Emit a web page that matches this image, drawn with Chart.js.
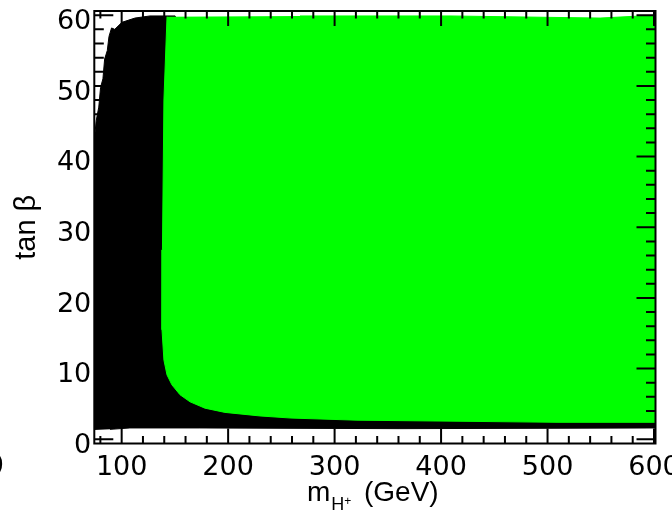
<!DOCTYPE html>
<html>
<head>
<meta charset="utf-8">
<script src="https://cdn.jsdelivr.net/npm/chart.js@4.4.1/dist/chart.umd.min.js"></script>
<style>
html,body{margin:0;padding:0;background:#fff}
#wrap{width:672px;height:512px;position:relative}
</style>
</head>
<body>
<div id="wrap"><canvas id="c" width="672" height="512"></canvas></div>
<script>
// axis ranges and tick labels
const xRange=[74.3,601.4];
const yRange=[-0.6,60.6];
const xTicks=[100,200,300,400,500,600];
const yTicks=[0,10,20,30,40,50,60];

// outline of the green (allowed) point cloud
const greenX=[142.6,139.7,138.3,137.9,139.7,142.6,147.2,154.8,164.2,178.2,197.0,229.9,259.0,321.0,446.9,508.9,601.4,601.4,549.3,408.4,267.5];
const greenY=[59.8,48.0,26.8,15.5,11.2,9.1,7.7,6.3,5.3,4.4,3.8,3.3,3.0,2.7,2.5,2.4,2.4,60.0,59.6,59.9,59.9];

// outline of the black (excluded) point cloud, the part under the green is hidden
const blackX=[74.3,74.3,76.0,78.5,80.2,82.4,84.0,86.5,88.1,90.5,93.5,100.3,112.5,126.6,150.1,150.1,601.4,601.4,361.4,173.5,107.8,89.0];
const blackY=[1.3,42.3,45.0,47.0,49.8,51.0,53.8,55.0,57.0,58.2,58.0,59.0,59.6,59.9,59.9,19.7,4.1,1.6,1.5,1.6,1.6,1.4];

const pts=(xs,ys)=>xs.map((x,i)=>({x:x,y:ys[i]}));

const TICKFONT={family:'DejaVu Sans',size:27};

// box with inward ticks on all four sides, plus the axis titles
const frame={
  id:'frame',
  afterDatasetsDraw(chart){
    const {ctx,chartArea:a,scales:{x,y}}=chart;
    ctx.save();
    ctx.strokeStyle='#000';
    ctx.lineWidth=2;
    ctx.strokeRect(a.left,a.top,a.right-a.left,a.bottom-a.top);
    ctx.beginPath();
    for(let v=80;v<=600;v+=20){
      const p=x.getPixelForValue(v);
      const L=(v%100===0)?15:7.5;
      ctx.moveTo(p,a.bottom);ctx.lineTo(p,a.bottom-L);
      ctx.moveTo(p,a.top);ctx.lineTo(p,a.top+L);
    }
    for(let v=0;v<=60;v+=2){
      const p=y.getPixelForValue(v);
      const L=(v%10===0)?19:9.5;
      ctx.moveTo(a.left,p);ctx.lineTo(a.left+L,p);
      ctx.moveTo(a.right,p);ctx.lineTo(a.right-L,p);
    }
    ctx.stroke();
    ctx.restore();
  },
  afterDraw(chart){
    const {ctx,chartArea:a}=chart;
    ctx.save();
    ctx.fillStyle='#000';
    ctx.textBaseline='alphabetic';
    ctx.textAlign='left';
    ctx.font='28px "Liberation Sans"';
    let cx=307;
    ctx.fillText('m',cx,501);
    cx+=ctx.measureText('m').width+1;
    ctx.font='18px "Liberation Sans"';
    ctx.fillText('H',cx,510);
    cx+=ctx.measureText('H').width;
    ctx.font='12px "Liberation Sans"';
    ctx.fillText('+',cx,505);
    ctx.font='28px "Liberation Sans"';
    ctx.fillText('(GeV)',364,501);
    // y title, rotated
    ctx.save();
    ctx.translate(35,(a.top+a.bottom)/2);
    ctx.rotate(-Math.PI/2);
    ctx.textAlign='center';
    ctx.font='29px "Liberation Sans"';
    ctx.fillText('tan β',0,0);
    ctx.restore();
    // cut-off label of the neighbouring panel
    ctx.font='27px "DejaVu Sans"';
    ctx.textAlign='right';
    ctx.fillText('0',4,474);
    ctx.restore();
  }
};

new Chart(document.getElementById('c'),{
  type:'line',
  data:{datasets:[
    {label:'allowed',data:pts(greenX,greenY),fill:'shape',backgroundColor:'#00ff00',borderColor:'#00ff00',borderWidth:1,pointRadius:0,tension:0},
    {label:'excluded',data:pts(blackX,blackY),fill:'shape',backgroundColor:'#000000',borderColor:'#000000',borderWidth:1,pointRadius:0,tension:0}
  ]},
  options:{
    responsive:false,
    animation:false,
    devicePixelRatio:1,
    layout:{padding:{top:11,right:16.5,left:0,bottom:0}},
    plugins:{legend:{display:false},tooltip:{enabled:false}},
    scales:{
      x:{
        type:'linear',min:xRange[0],max:xRange[1],
        grid:{display:false,drawTicks:false},border:{display:false},
        ticks:{font:TICKFONT,color:'#000',padding:8,maxRotation:0,autoSkip:false},
        afterBuildTicks:s=>{s.ticks=xTicks.map(v=>({value:v}));},
        afterFit:s=>{s.height=68.5;s.paddingLeft=0;s.paddingRight=0;}
      },
      y:{
        type:'linear',min:yRange[0],max:yRange[1],
        grid:{display:false,drawTicks:false},border:{display:false},
        ticks:{font:TICKFONT,color:'#000',padding:3,labelOffset:6.7,autoSkip:false},
        afterBuildTicks:s=>{s.ticks=yTicks.map(v=>({value:v}));},
        afterFit:s=>{s.width=94.3;s.paddingTop=0;s.paddingBottom=0;}
      }
    }
  },
  plugins:[frame]
});
</script>
</body>
</html>
